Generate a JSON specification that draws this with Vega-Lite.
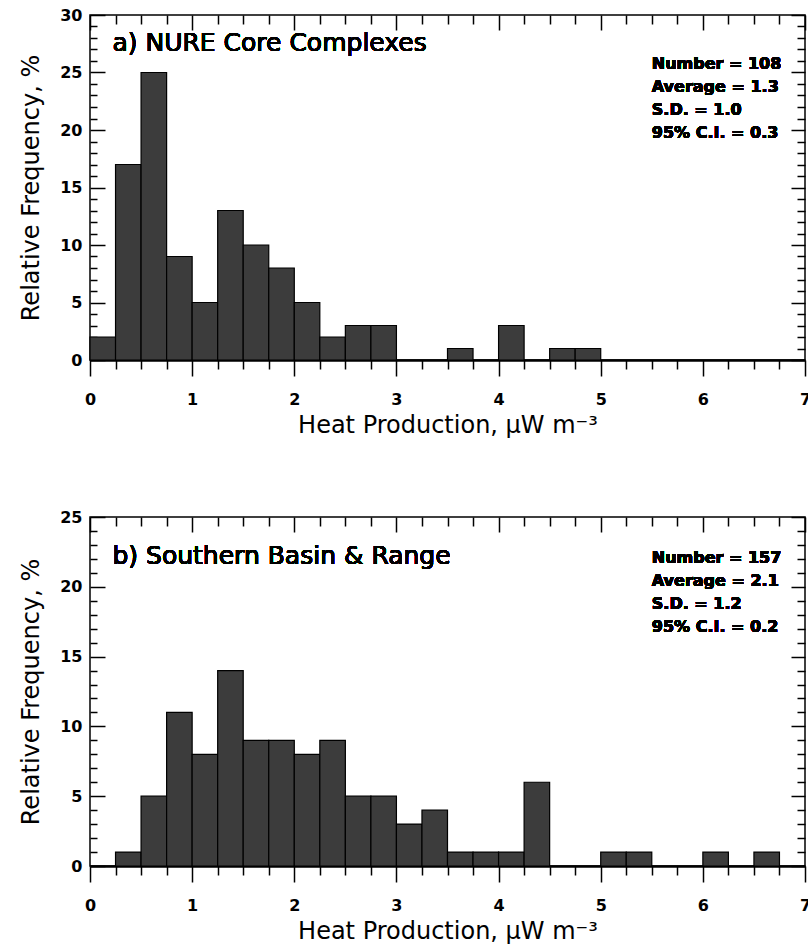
{
  "$schema": "https://vega.github.io/schema/vega-lite/v6.json",
  "background": "white",
  "padding": {"left": 18, "top": 6, "right": 0, "bottom": 0},
  "autosize": {"type": "pad"},
  "spacing": 70,
  "datasets": {
    "nure": [
      {"start": 0, "end": 0.25, "freq": 2},
      {"start": 0.25, "end": 0.5, "freq": 17},
      {"start": 0.5, "end": 0.75, "freq": 25},
      {"start": 0.75, "end": 1, "freq": 9},
      {"start": 1, "end": 1.25, "freq": 5},
      {"start": 1.25, "end": 1.5, "freq": 13},
      {"start": 1.5, "end": 1.75, "freq": 10},
      {"start": 1.75, "end": 2, "freq": 8},
      {"start": 2, "end": 2.25, "freq": 5},
      {"start": 2.25, "end": 2.5, "freq": 2},
      {"start": 2.5, "end": 2.75, "freq": 3},
      {"start": 2.75, "end": 3, "freq": 3},
      {"start": 3.5, "end": 3.75, "freq": 1},
      {"start": 4, "end": 4.25, "freq": 3},
      {"start": 4.5, "end": 4.75, "freq": 1},
      {"start": 4.75, "end": 5, "freq": 1}
    ],
    "sbr": [
      {"start": 0.25, "end": 0.5, "freq": 1},
      {"start": 0.5, "end": 0.75, "freq": 5},
      {"start": 0.75, "end": 1, "freq": 11},
      {"start": 1, "end": 1.25, "freq": 8},
      {"start": 1.25, "end": 1.5, "freq": 14},
      {"start": 1.5, "end": 1.75, "freq": 9},
      {"start": 1.75, "end": 2, "freq": 9},
      {"start": 2, "end": 2.25, "freq": 8},
      {"start": 2.25, "end": 2.5, "freq": 9},
      {"start": 2.5, "end": 2.75, "freq": 5},
      {"start": 2.75, "end": 3, "freq": 5},
      {"start": 3, "end": 3.25, "freq": 3},
      {"start": 3.25, "end": 3.5, "freq": 4},
      {"start": 3.5, "end": 3.75, "freq": 1},
      {"start": 3.75, "end": 4, "freq": 1},
      {"start": 4, "end": 4.25, "freq": 1},
      {"start": 4.25, "end": 4.5, "freq": 6},
      {"start": 5, "end": 5.25, "freq": 1},
      {"start": 5.25, "end": 5.5, "freq": 1},
      {"start": 6, "end": 6.25, "freq": 1},
      {"start": 6.5, "end": 6.75, "freq": 1}
    ]
  },
  "vconcat": [
    {
      "width": 715,
      "height": 345,
      "data": {"name": "nure"},
      "resolve": {"axis": {"x": "independent", "y": "independent"}},
      "layer": [
        {
          "mark": {"type": "bar", "fill": "#3c3c3c", "stroke": "black", "strokeWidth": 1.2},
          "encoding": {
            "x": {"field": "start", "type": "quantitative", "scale": {"domain": [0, 7], "nice": false, "zero": false},
              "axis": {"orient": "bottom", "values": [0, 1, 2, 3, 4, 5, 6, 7], "tickSize": 16, "labelPadding": 15, "domain": true, "domainWidth": 2.5, "labelFlush": false, "title": "Heat Production, μW m⁻³", "titlePadding": 6}},
            "x2": {"field": "end"},
            "y": {"field": "freq", "type": "quantitative", "scale": {"domain": [0, 30], "nice": false},
              "axis": {"orient": "left", "values": [0, 5, 10, 15, 20, 25, 30], "tickSize": -15, "labelPadding": 23, "domain": false, "title": "Relative Frequency, %", "titlePadding": 16}},
            "y2": {"datum": 0}
          }
        },
        {
          "mark": {"type": "point", "opacity": 0},
          "encoding": {
            "x": {"field": "start", "type": "quantitative", "scale": {"domain": [0, 7], "nice": false, "zero": false},
              "axis": {"orient": "bottom", "values": [0.25, 0.5, 0.75, 1.25, 1.5, 1.75, 2.25, 2.5, 2.75, 3.25, 3.5, 3.75, 4.25, 4.5, 4.75, 5.25, 5.5, 5.75, 6.25, 6.5, 6.75], "tickSize": 9, "labels": false, "domain": false, "title": null}},
            "y": {"field": "freq", "type": "quantitative", "scale": {"domain": [0, 30], "nice": false},
              "axis": {"orient": "left", "values": [1, 2, 3, 4, 6, 7, 8, 9, 11, 12, 13, 14, 16, 17, 18, 19, 21, 22, 23, 24, 26, 27, 28, 29], "tickSize": -7, "labels": false, "domain": false, "title": null}}
          }
        },
        {
          "mark": {"type": "point", "opacity": 0},
          "encoding": {
            "x": {"field": "start", "type": "quantitative", "scale": {"domain": [0, 7], "nice": false, "zero": false},
              "axis": {"orient": "top", "values": [0, 1, 2, 3, 4, 5, 6, 7], "tickSize": -15, "labels": false, "domain": false, "title": null}},
            "y": {"field": "freq", "type": "quantitative", "scale": {"domain": [0, 30], "nice": false},
              "axis": {"orient": "right", "values": [0, 5, 10, 15, 20, 25, 30], "tickSize": -14, "labels": false, "domain": false, "title": null}}
          }
        },
        {
          "mark": {"type": "point", "opacity": 0},
          "encoding": {
            "x": {"field": "start", "type": "quantitative", "scale": {"domain": [0, 7], "nice": false, "zero": false},
              "axis": {"orient": "top", "values": [0.25, 0.5, 0.75, 1.25, 1.5, 1.75, 2.25, 2.5, 2.75, 3.25, 3.5, 3.75, 4.25, 4.5, 4.75, 5.25, 5.5, 5.75, 6.25, 6.5, 6.75], "tickSize": -9, "labels": false, "domain": false, "title": null}},
            "y": {"field": "freq", "type": "quantitative", "scale": {"domain": [0, 30], "nice": false},
              "axis": {"orient": "right", "values": [1, 2, 3, 4, 6, 7, 8, 9, 11, 12, 13, 14, 16, 17, 18, 19, 21, 22, 23, 24, 26, 27, 28, 29], "tickSize": -8, "labels": false, "domain": false, "title": null}}
          }
        },
        {
          "mark": {"type": "text", "align": "left", "baseline": "alphabetic", "font": "DejaVu Sans", "fontSize": 25, "fill": "black"},
          "encoding": {
            "x": {"datum": 0.22, "type": "quantitative", "scale": {"domain": [0, 7], "nice": false, "zero": false}, "axis": null},
            "y": {"datum": 26.9, "type": "quantitative", "scale": {"domain": [0, 30], "nice": false}, "axis": null},
            "text": {"value": "a) NURE Core Complexes"}
          }
        },
        {
          "mark": {"type": "text", "align": "left", "baseline": "alphabetic", "font": "DejaVu Sans", "fontSize": 16, "fontWeight": "bold", "lineHeight": 23, "fill": "black"},
          "encoding": {
            "x": {"datum": 5.5, "type": "quantitative", "scale": {"domain": [0, 7], "nice": false, "zero": false}, "axis": null},
            "y": {"datum": 25.3, "type": "quantitative", "scale": {"domain": [0, 30], "nice": false}, "axis": null},
            "text": {"value": ["Number = 108", "Average = 1.3", "S.D. = 1.0", "95% C.I. = 0.3"]}
          }
        }
      ]
    },
    {
      "width": 715,
      "height": 349,
      "data": {"name": "sbr"},
      "resolve": {"axis": {"x": "independent", "y": "independent"}},
      "layer": [
        {
          "mark": {"type": "bar", "fill": "#3c3c3c", "stroke": "black", "strokeWidth": 1.2},
          "encoding": {
            "x": {"field": "start", "type": "quantitative", "scale": {"domain": [0, 7], "nice": false, "zero": false},
              "axis": {"orient": "bottom", "values": [0, 1, 2, 3, 4, 5, 6, 7], "tickSize": 16, "labelPadding": 15, "domain": true, "domainWidth": 2.5, "labelFlush": false, "title": "Heat Production, μW m⁻³", "titlePadding": 6}},
            "x2": {"field": "end"},
            "y": {"field": "freq", "type": "quantitative", "scale": {"domain": [0, 25], "nice": false},
              "axis": {"orient": "left", "values": [0, 5, 10, 15, 20, 25], "tickSize": -15, "labelPadding": 23, "domain": false, "title": "Relative Frequency, %", "titlePadding": 16}},
            "y2": {"datum": 0}
          }
        },
        {
          "mark": {"type": "point", "opacity": 0},
          "encoding": {
            "x": {"field": "start", "type": "quantitative", "scale": {"domain": [0, 7], "nice": false, "zero": false},
              "axis": {"orient": "bottom", "values": [0.25, 0.5, 0.75, 1.25, 1.5, 1.75, 2.25, 2.5, 2.75, 3.25, 3.5, 3.75, 4.25, 4.5, 4.75, 5.25, 5.5, 5.75, 6.25, 6.5, 6.75], "tickSize": 9, "labels": false, "domain": false, "title": null}},
            "y": {"field": "freq", "type": "quantitative", "scale": {"domain": [0, 25], "nice": false},
              "axis": {"orient": "left", "values": [1, 2, 3, 4, 6, 7, 8, 9, 11, 12, 13, 14, 16, 17, 18, 19, 21, 22, 23, 24], "tickSize": -7, "labels": false, "domain": false, "title": null}}
          }
        },
        {
          "mark": {"type": "point", "opacity": 0},
          "encoding": {
            "x": {"field": "start", "type": "quantitative", "scale": {"domain": [0, 7], "nice": false, "zero": false},
              "axis": {"orient": "top", "values": [0, 1, 2, 3, 4, 5, 6, 7], "tickSize": -15, "labels": false, "domain": false, "title": null}},
            "y": {"field": "freq", "type": "quantitative", "scale": {"domain": [0, 25], "nice": false},
              "axis": {"orient": "right", "values": [0, 5, 10, 15, 20, 25], "tickSize": -14, "labels": false, "domain": false, "title": null}}
          }
        },
        {
          "mark": {"type": "point", "opacity": 0},
          "encoding": {
            "x": {"field": "start", "type": "quantitative", "scale": {"domain": [0, 7], "nice": false, "zero": false},
              "axis": {"orient": "top", "values": [0.25, 0.5, 0.75, 1.25, 1.5, 1.75, 2.25, 2.5, 2.75, 3.25, 3.5, 3.75, 4.25, 4.5, 4.75, 5.25, 5.5, 5.75, 6.25, 6.5, 6.75], "tickSize": -9, "labels": false, "domain": false, "title": null}},
            "y": {"field": "freq", "type": "quantitative", "scale": {"domain": [0, 25], "nice": false},
              "axis": {"orient": "right", "values": [1, 2, 3, 4, 6, 7, 8, 9, 11, 12, 13, 14, 16, 17, 18, 19, 21, 22, 23, 24], "tickSize": -8, "labels": false, "domain": false, "title": null}}
          }
        },
        {
          "mark": {"type": "text", "align": "left", "baseline": "alphabetic", "font": "DejaVu Sans", "fontSize": 25, "fill": "black"},
          "encoding": {
            "x": {"datum": 0.22, "type": "quantitative", "scale": {"domain": [0, 7], "nice": false, "zero": false}, "axis": null},
            "y": {"datum": 21.6, "type": "quantitative", "scale": {"domain": [0, 25], "nice": false}, "axis": null},
            "text": {"value": "b) Southern Basin & Range"}
          }
        },
        {
          "mark": {"type": "text", "align": "left", "baseline": "alphabetic", "font": "DejaVu Sans", "fontSize": 16, "fontWeight": "bold", "lineHeight": 23, "fill": "black"},
          "encoding": {
            "x": {"datum": 5.5, "type": "quantitative", "scale": {"domain": [0, 7], "nice": false, "zero": false}, "axis": null},
            "y": {"datum": 21.7, "type": "quantitative", "scale": {"domain": [0, 25], "nice": false}, "axis": null},
            "text": {"value": ["Number = 157", "Average = 2.1", "S.D. = 1.2", "95% C.I. = 0.2"]}
          }
        }
      ]
    }
  ],
  "config": {
    "font": "DejaVu Sans",
    "view": {"stroke": "black", "strokeWidth": 1.5},
    "axis": {
      "grid": false,
      "labelFont": "DejaVu Sans",
      "labelFontWeight": "bold",
      "labelFontSize": 16,
      "labelColor": "black",
      "titleFont": "DejaVu Sans",
      "titleFontWeight": "normal",
      "titleFontSize": 24,
      "titleColor": "black",
      "tickColor": "black",
      "tickWidth": 1.5,
      "domainColor": "black"
    }
  }
}
